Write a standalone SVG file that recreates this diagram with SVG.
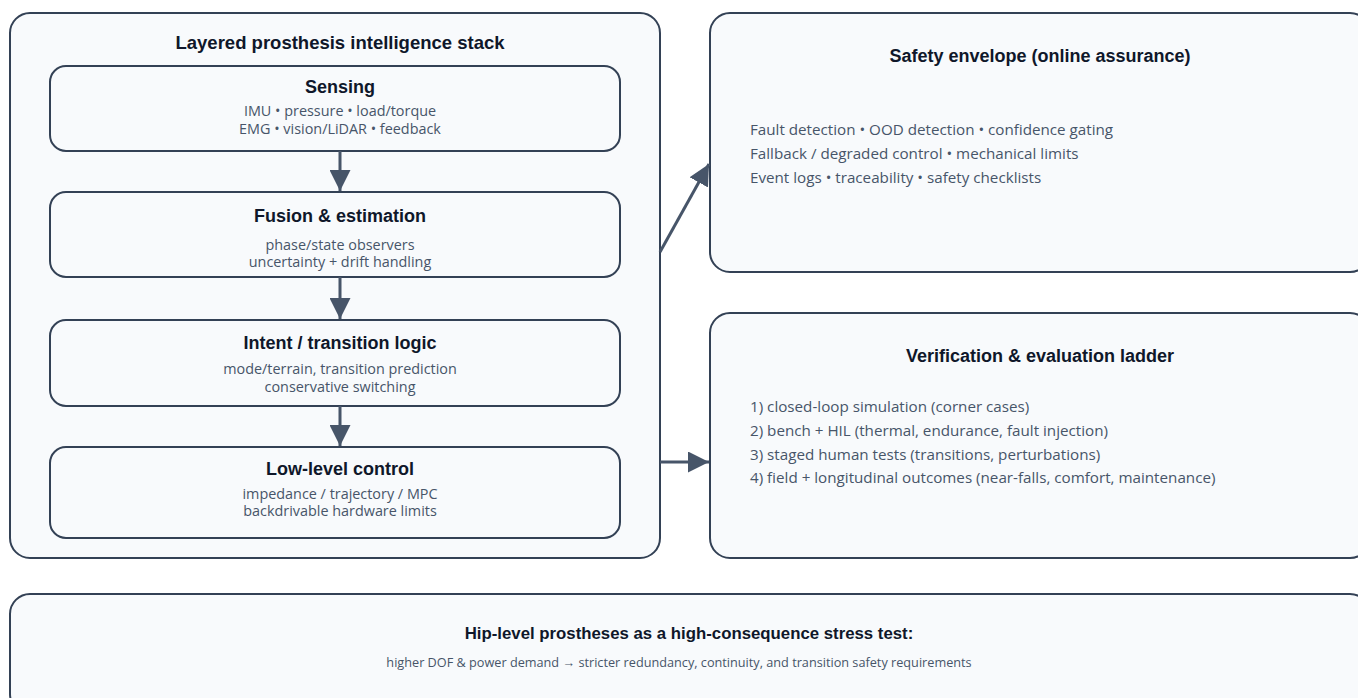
<svg xmlns="http://www.w3.org/2000/svg" width="1358" height="698" viewBox="0 0 1358 698">
<defs>
<style>
.box{fill:#f8fafc;stroke:#334155;stroke-width:2}
.inner{fill:#f8fafc;stroke:#334155;stroke-width:2}
.h1{font-family:"Liberation Sans",Arial,sans-serif;font-weight:bold;font-size:18.5px;fill:#0f172a;text-anchor:middle}
.h2{font-family:"Liberation Sans",Arial,sans-serif;font-weight:bold;font-size:18px;fill:#0f172a;text-anchor:middle}
.h3{font-family:"Liberation Sans",Arial,sans-serif;font-weight:bold;font-size:16.8px;fill:#0f172a;text-anchor:middle}
.t{font-family:"Open Sans","Noto Sans",sans-serif;font-size:14.4px;fill:#475569;text-anchor:middle}
.tl{font-family:"Open Sans","Noto Sans",sans-serif;font-size:15.2px;fill:#475569}
.ts{font-family:"Open Sans","Noto Sans",sans-serif;font-size:12.7px;fill:#475569;text-anchor:middle}
.edge{stroke:#475569;stroke-width:3;fill:none}
</style>
<marker id="ah" viewBox="0 0 10 10" refX="10" refY="5" markerWidth="7" markerHeight="7" markerUnits="strokeWidth" orient="auto">
<path d="M0,0 L10,5 L0,10 z" fill="#475569"/>
</marker>
</defs>

<g id="stack">
<rect class="box" x="10" y="13" width="650" height="545" rx="20"/>
<text class="h1" x="340" y="49">Layered prosthesis intelligence stack</text>
</g>

<g id="sensing">
<rect class="inner" x="50" y="66" width="570" height="85" rx="16"/>
<text class="h2" x="340" y="93">Sensing</text>
<text class="t" x="340" y="116">IMU • pressure • load/torque</text>
<text class="t" x="340" y="134">EMG • vision/LiDAR • feedback</text>
</g>

<g id="fusion">
<rect class="inner" x="50" y="192" width="570" height="85" rx="16"/>
<text class="h2" x="340" y="222">Fusion &amp; estimation</text>
<text class="t" x="340" y="250">phase/state observers</text>
<text class="t" x="340" y="267">uncertainty + drift handling</text>
</g>

<g id="intent">
<rect class="inner" x="50" y="320" width="570" height="86" rx="16"/>
<text class="h2" x="340" y="349">Intent / transition logic</text>
<text class="t" x="340" y="374">mode/terrain, transition prediction</text>
<text class="t" x="340" y="392">conservative switching</text>
</g>

<g id="lowlevel">
<rect class="inner" x="50" y="447" width="570" height="91" rx="16"/>
<text class="h2" x="340" y="475">Low-level control</text>
<text class="t" x="340" y="499">impedance / trajectory / MPC</text>
<text class="t" x="340" y="516">backdrivable hardware limits</text>
</g>

<g id="safety">
<rect class="box" x="710" y="13" width="660" height="259" rx="20"/>
<text class="h2" x="1040" y="62">Safety envelope (online assurance)</text>
<text class="tl" x="750" y="135">Fault detection • OOD detection • confidence gating</text>
<text class="tl" x="750" y="159">Fallback / degraded control • mechanical limits</text>
<text class="tl" x="750" y="183">Event logs • traceability • safety checklists</text>
</g>

<g id="verification">
<rect class="box" x="710" y="313" width="660" height="245" rx="20"/>
<text class="h2" x="1040" y="362">Verification &amp; evaluation ladder</text>
<text class="tl" x="750" y="412">1) closed-loop simulation (corner cases)</text>
<text class="tl" x="750" y="436">2) bench + HIL (thermal, endurance, fault injection)</text>
<text class="tl" x="750" y="460">3) staged human tests (transitions, perturbations)</text>
<text class="tl" x="750" y="483">4) field + longitudinal outcomes (near-falls, comfort, maintenance)</text>
</g>

<g id="hip">
<rect class="box" x="10" y="594" width="1360" height="120" rx="20"/>
<text class="h3" x="689" y="639">Hip-level prostheses as a high-consequence stress test:</text>
<text class="ts" x="679" y="667">higher DOF &amp; power demand → stricter redundancy, continuity, and transition safety requirements</text>
</g>

<g id="connectors">
<line class="edge" x1="340" y1="151" x2="340" y2="191" marker-end="url(#ah)"/>
<line class="edge" x1="340" y1="277" x2="340" y2="319" marker-end="url(#ah)"/>
<line class="edge" x1="340" y1="406" x2="340" y2="446" marker-end="url(#ah)"/>
<line class="edge" x1="660" y1="252" x2="709" y2="164" marker-end="url(#ah)"/>
<line class="edge" x1="660" y1="462" x2="709" y2="462" marker-end="url(#ah)"/>
</g>
</svg>
